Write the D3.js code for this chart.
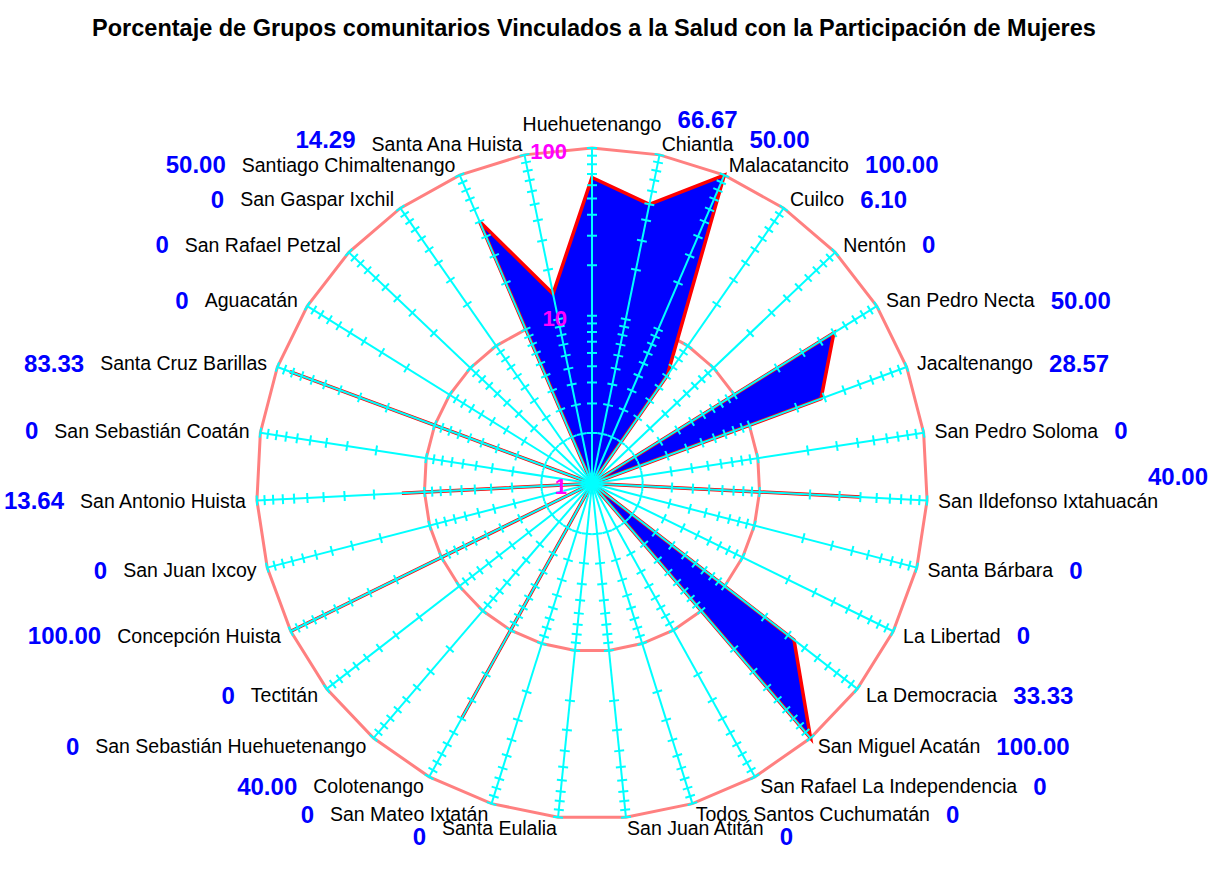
<!DOCTYPE html>
<html>
<head>
<meta charset="utf-8">
<script src="https://cdn.jsdelivr.net/npm/d3@7"></script>
<style>
  body { margin: 0; background: white; }
  text { font-family: "Liberation Sans", Arial, sans-serif; }
</style>
</head>
<body>
<div id="container"></div>
<script>
let w = 1212;
let h = 874;

let titulo = "Porcentaje de Grupos comunitarios Vinculados a la Salud con la Participación de Mujeres";

let municipios = [
  "Huehuetenango", "Chiantla", "Malacatancito", "Cuilco", "Nentón",
  "San Pedro Necta", "Jacaltenango", "San Pedro Soloma", "San Ildefonso Ixtahuacán",
  "Santa Bárbara", "La Libertad", "La Democracia", "San Miguel Acatán",
  "San Rafael La Independencia", "Todos Santos Cuchumatán", "San Juan Atitán",
  "Santa Eulalia", "San Mateo Ixtatán", "Colotenango", "San Sebastián Huehuetenango",
  "Tectitán", "Concepción Huista", "San Juan Ixcoy", "San Antonio Huista",
  "San Sebastián Coatán", "Santa Cruz Barillas", "Aguacatán", "San Rafael Petzal",
  "San Gaspar Ixchil", "Santiago Chimaltenango", "Santa Ana Huista"
];

let porcentajes = [
  66.67, 50.00, 100.00, 6.10, 0,
  50.00, 28.57, 0, 40.00,
  0, 0, 33.33, 100.00,
  0, 0, 0,
  0, 0, 40.00, 0,
  0, 100.00, 0, 13.64,
  0, 83.33, 0, 0,
  0, 50.00, 14.29
];

let anillos = [10, 100];
let etiquetasEje = [1, 10, 100];

let cx = 592;
let cy = 483.5;
let radio = 335.5;

let viz = d3.select("#container")
  .append("svg")
    .attr("width", w)
    .attr("height", h)
    .style("background-color", "white")
;

let rScale = d3.scaleLog().domain([1, 100]).range([0, radio]);
let aScale = d3.scaleLinear().domain([0, municipios.length]).range([0, 2 * Math.PI]);

function punto(i, r) {
  let a = aScale(i);
  return [cx + r * Math.sin(a), cy - r * Math.cos(a)];
}

function radioDe(v) {
  // los ceros caen en el centro (escala log empieza en 1)
  return rScale(Math.max(v, 1));
}

let cerrada = d3.line().curve(d3.curveLinearClosed);

// anillos de 10 y 100
viz.append("g").selectAll("path").data(anillos).enter()
  .append("path")
    .attr("d", v => cerrada(municipios.map((m, i) => punto(i, rScale(v)))))
    .attr("fill", "none")
    .attr("stroke", "#FF8080")
    .attr("stroke-width", 3)
;

// poligono de datos
viz.append("path")
  .attr("d", cerrada(porcentajes.map((v, i) => punto(i, radioDe(v)))))
  .attr("fill", "#0000FF")
  .attr("stroke", "#FF0000")
  .attr("stroke-width", 3.5)
  .attr("stroke-linejoin", "miter")
;

// ejes con marcas logaritmicas
let ejes = viz.append("g").selectAll("g").data(municipios).enter().append("g");

ejes.append("line")
  .attr("x1", cx)
  .attr("y1", cy)
  .attr("x2", (d, i) => punto(i, radio)[0])
  .attr("y2", (d, i) => punto(i, radio)[1])
  .attr("stroke", "#00FFFF")
  .attr("stroke-width", 2)
;

let marcas = rScale.ticks();
ejes.each(function(d, i) {
  let a = aScale(i);
  let px = Math.cos(a), py = Math.sin(a);
  d3.select(this).selectAll("line.tick").data(marcas).enter()
    .append("line")
      .classed("tick", true)
      .attr("x1", t => punto(i, rScale(t))[0] - 5 * px)
      .attr("y1", t => punto(i, rScale(t))[1] - 5 * py)
      .attr("x2", t => punto(i, rScale(t))[0] + 5 * px)
      .attr("y2", t => punto(i, rScale(t))[1] + 5 * py)
      .attr("stroke", "#00FFFF")
      .attr("stroke-width", 2)
  ;
});

// etiquetas de la escala
viz.append("g").selectAll("text").data(etiquetasEje).enter()
  .append("text")
    .attr("x", cx - 25)
    .attr("y", v => cy - rScale(v) + 3)
    .attr("dy", "0.35em")
    .attr("text-anchor", "end")
    .attr("fill", "#FF00FF")
    .style("font-weight", "bold")
    .style("font-size", "22px")
    .text(v => v)
;

// nombres de municipios
let cajas = [];
let nombres = viz.append("g").selectAll("text").data(municipios).enter()
  .append("text")
    .attr("x", (d, i) => punto(i, radio + 11)[0])
    .attr("y", (d, i) => {
      let p = punto(i, radio + 11);
      return Math.abs(Math.sin(aScale(i))) < 0.01 ? p[1] - 13 : p[1];
    })
    .attr("dy", "0.35em")
    .attr("text-anchor", (d, i) => {
      let s = Math.sin(aScale(i));
      if (Math.abs(s) < 0.01) return "middle";
      return s > 0 ? "start" : "end";
    })
    .attr("fill", "black")
    .style("font-size", "19.5px")
    .text(d => d)
;

let cajaNombre = [];
nombres.each(function(d, i) {
  let b = this.getBBox();
  let yc = +d3.select(this).attr("y");
  let c = {x0: b.x, x1: b.x + b.width, y0: yc - 10, y1: yc + 10};
  cajaNombre.push(c);
  cajas.push(c);
});

function choca(c) {
  let pad = 2;
  return cajas.some(o => c.x0 < o.x1 + pad && c.x1 > o.x0 - pad && c.y0 < o.y1 + pad && c.y1 > o.y0 - pad);
}

// valores en azul, junto al nombre, sin encimarse
let valores = viz.append("g").selectAll("text").data(porcentajes).enter()
  .append("text")
    .attr("dy", "0.35em")
    .attr("fill", "#0000FF")
    .style("font-weight", "bold")
    .style("font-size", "24px")
    .text(v => v === 0 ? "0" : d3.format(".2f")(v))
;

valores.each(function(v, i) {
  let a = aScale(i);
  let s = Math.sin(a);
  let ancho = this.getComputedTextLength();
  let base = cajaNombre[i];
  let gap = 16;
  let x0 = s >= -0.01 ? base.x1 + gap : base.x0 - gap - ancho;
  x0 = Math.max(4, Math.min(w - 4 - ancho, x0));
  let y = (base.y0 + base.y1) / 2;
  let dir = Math.cos(a) > -0.15 ? -1 : 1;
  let c;
  for (let k = 0; k < 60; k++) {
    c = {x0: x0, x1: x0 + ancho, y0: y - 9, y1: y + 9};
    if (!choca(c)) break;
    y += dir * 4;
  }
  y = Math.min(h - 12, y);
  cajas.push({x0: x0, x1: x0 + ancho, y0: y - 9, y1: y + 9});
  d3.select(this).attr("x", x0).attr("y", y);
});

// titulo
viz.append("text")
  .attr("x", 594)
  .attr("y", 28)
  .attr("dy", "0.35em")
  .attr("text-anchor", "middle")
  .style("font-weight", "bold")
  .style("font-size", "23.5px")
  .text(titulo)
;
</script>
</body>
</html>
